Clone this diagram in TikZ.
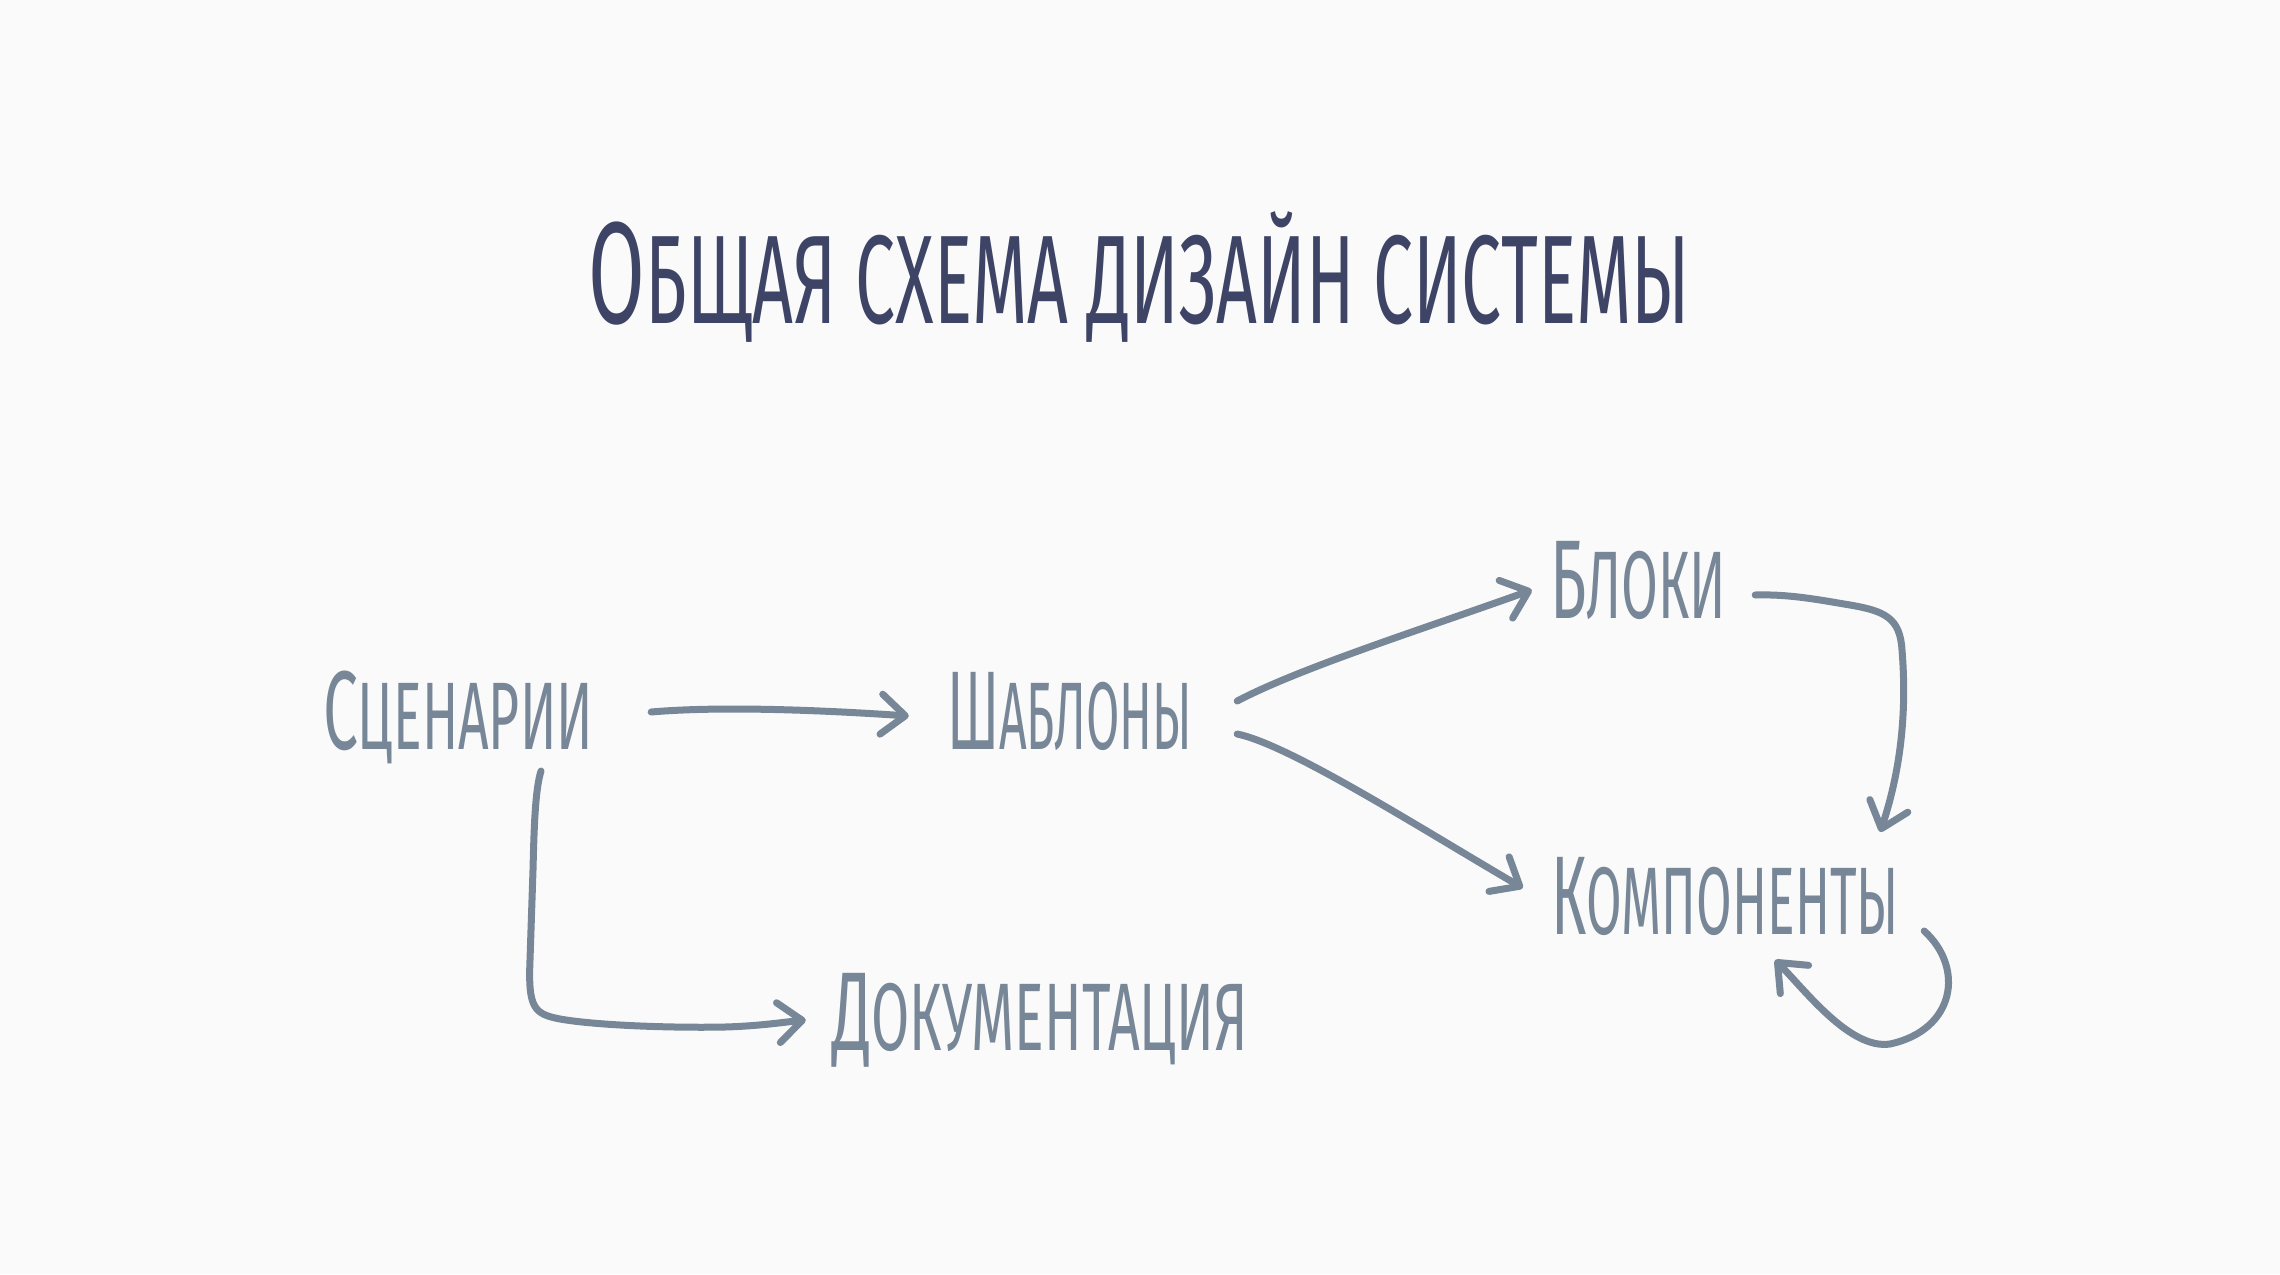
\documentclass[tikz,border=0pt]{standalone}
\usepackage{fontspec}
\setmainfont{Fira Sans}
\usetikzlibrary{arrows.meta}
\definecolor{bgc}{HTML}{FAFAFA}
\definecolor{ink}{HTML}{778797}
\definecolor{titleink}{HTML}{3E4466}
\newcommand{\capword}[5]{\resizebox{#1}{\height}{\fontsize{#2}{#2}\selectfont #4\fontsize{#3}{#3}\selectfont #5}}
\tikzset{
  lbl/.style={anchor=base, inner sep=0pt, text=ink},
  conn/.style={draw=ink, line width=7pt, line cap=round, line join=round,
    -{Straight Barb[length=24pt,width=40pt,round]}}
}
\begin{document}
\begin{tikzpicture}[x=1pt,y=-1pt]
\path[fill=bgc] (0,0) rectangle (2280,1274);
\useasboundingbox (0,0) rectangle (2280,1274);

\node[anchor=base, inner sep=0pt, text=titleink] (title) at (1139.5,323)
  {\resizebox{1101pt}{\height}{\fontsize{145pt}{145pt}\selectfont О\fontsize{126pt}{126pt}\selectfont БЩАЯ СХЕМА ДИЗАЙН СИСТЕМЫ}};

\node[lbl] (scen) at (458,749) {\capword{270pt}{112pt}{96pt}{С}{ЦЕНАРИИ}};
\node[lbl] (shab) at (1069.5,749) {\capword{245pt}{112pt}{96pt}{Ш}{АБЛОНЫ}};
\node[lbl] (blok) at (1638,618) {\capword{176pt}{112pt}{96pt}{Б}{ЛОКИ}};
\node[lbl] (kompo) at (1725,934) {\capword{348pt}{112pt}{96pt}{К}{ОМПОНЕНТЫ}};
\node[lbl] (doku) at (1040,1050) {\capword{416pt}{112pt}{96pt}{Д}{ОКУМЕНТАЦИЯ}};

% Сценарии -> Шаблоны
\draw[conn] ([shift={(58,-37)}]scen.base east) .. controls (720,706) and (820,710) .. ([shift={(-38,-33)}]shab.base west);
% Сценарии -> Документация
\draw[conn] ([shift={(83,22)}]scen.base) .. controls (535,790) and (534,830) .. (533,870)
  -- (530,960) .. controls (528,1008) and (534,1014) .. (560,1019)
  .. controls (600,1026) and (680,1028) .. (725,1027)
  .. controls (760,1026) and (785,1022) .. ([shift={(-26,-30)}]doku.base west);
% Шаблоны -> Блоки
\draw[conn] ([shift={(45,-48)}]shab.base east) .. controls (1300,668) and (1420,630) .. ([shift={(-18,-28)}]blok.base west);
% Шаблоны -> Компоненты
\draw[conn] ([shift={(45,-15)}]shab.base east) .. controls (1290,745) and (1420,828) .. ([shift={(-28,-46)}]kompo.base west);
% Блоки -> Компоненты
\draw[conn] ([shift={(29,-23)}]blok.base east) .. controls (1790,594) and (1820,600) .. (1850,605)
  .. controls (1885,611) and (1900,618) .. (1902,650)
  .. controls (1906,700) and (1904,760) .. ([shift={(-19,-102)}]kompo.base east);
% Компоненты -> Компоненты
\draw[conn] ([shift={(25,-3)}]kompo.base east) .. controls (1965,968) and (1955,1030) .. (1890,1044)
  .. controls (1850,1050) and (1805,990) .. ([shift={(50,26)}]kompo.base);
\end{tikzpicture}
\end{document}
